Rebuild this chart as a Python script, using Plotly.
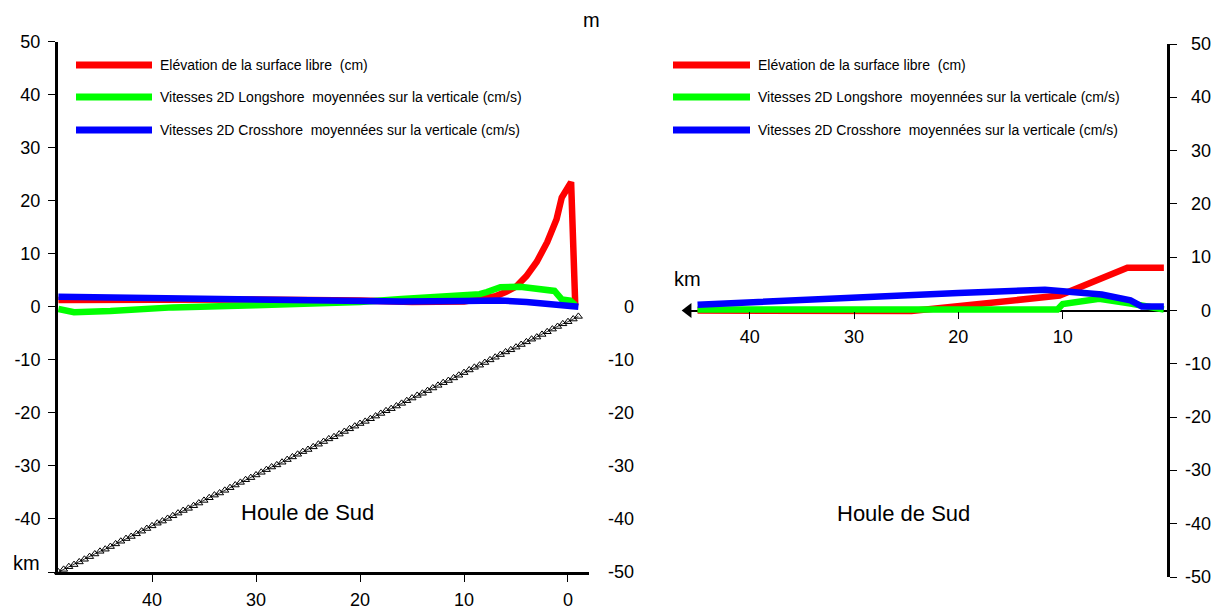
import plotly.graph_objects as go

# The page adds an 8px body margin, so the figure is drawn 8px smaller and
# every pixel position below is measured in the final screenshot frame.
PAGE_OFF = 8
W, H = 1223 - PAGE_OFF, 612 - PAGE_OFF
FONT = "Liberation Sans, Arial, Helvetica, sans-serif"

# ---------------- data ----------------
legend_labels = [
    "Elévation de la surface libre  (cm)",
    "Vitesses 2D Longshore  moyennées sur la verticale (cm/s)",
    "Vitesses 2D Crosshore  moyennées sur la verticale (cm/s)",
]
series_colors = ["#ff0000", "#00ff00", "#0000ff"]

# Left panel (distance in km, values in cm or cm/s)
red_left_km = [49, 40, 30, 20, 15, 10, 8, 7, 6, 5, 4, 3, 2, 1.1, 0.6, -0.3, -0.7]
red_left = [1.3, 1.4, 1.4, 1.2, 0.9, 1.0, 1.5, 2.0, 2.8, 3.8, 5.8, 8.5, 12.2, 16.5, 20.6, 23.5, 0.3]

green_left_km = [49, 47.5, 44, 38, 30, 26, 20, 16, 12, 8.5, 7.8, 6.5, 4.6, 2.7, 1.3, 0.6, -0.2, -0.7]
green_left = [-0.4, -1.0, -0.8, -0.1, 0.3, 0.45, 0.9, 1.5, 2.0, 2.4, 2.8, 3.7, 3.8, 3.3, 3.0, 1.4, 1.2, 0.3]

blue_left_km = [49, 40, 30, 20, 16, 10, 6.5, 4, 2.7, 1, -1]
blue_left = [1.9, 1.6, 1.3, 1.1, 1.0, 1.1, 1.2, 0.9, 0.6, 0.2, 0.0]

# Bathymetry (m) along the profile
bathy_km = [49.0, 48.5, 48.0, 47.5, 47.0, 46.5, 46.0, 45.5, 45.0, 44.5,
            44.0, 43.5, 43.0, 42.5, 42.0, 41.5, 41.0, 40.5, 40.0, 39.5,
            39.0, 38.5, 38.0, 37.5, 37.0, 36.5, 36.0, 35.5, 35.0, 34.5,
            34.0, 33.5, 33.0, 32.5, 32.0, 31.5, 31.0, 30.5, 30.0, 29.5,
            29.0, 28.5, 28.0, 27.5, 27.0, 26.5, 26.0, 25.5, 25.0, 24.5,
            24.0, 23.5, 23.0, 22.5, 22.0, 21.5, 21.0, 20.5, 20.0, 19.5,
            19.0, 18.5, 18.0, 17.5, 17.0, 16.5, 16.0, 15.5, 15.0, 14.5,
            14.0, 13.5, 13.0, 12.5, 12.0, 11.5, 11.0, 10.5, 10.0, 9.5,
            9.0, 8.5, 8.0, 7.5, 7.0, 6.5, 6.0, 5.5, 5.0, 4.5,
            4.0, 3.5, 3.0, 2.5, 2.0, 1.5, 1.0, 0.5, 0.0, -0.5, -1.0]
bathy_depth = [-50.0, -49.5, -49.0, -48.6, -48.1, -47.6, -47.1, -46.6, -46.1, -45.7,
               -45.2, -44.7, -44.2, -43.7, -43.3, -42.8, -42.3, -41.8, -41.3, -40.8,
               -40.4, -39.9, -39.4, -38.9, -38.4, -38.0, -37.5, -37.0, -36.5, -36.0,
               -35.5, -35.1, -34.6, -34.1, -33.6, -33.1, -32.6, -32.2, -31.7, -31.2,
               -30.7, -30.2, -29.8, -29.3, -28.8, -28.3, -27.8, -27.3, -26.9, -26.4,
               -25.9, -25.4, -24.9, -24.5, -24.0, -23.5, -23.0, -22.5, -22.0, -21.6,
               -21.1, -20.6, -20.1, -19.6, -19.2, -18.7, -18.2, -17.7, -17.2, -16.7,
               -16.3, -15.8, -15.3, -14.8, -14.3, -13.9, -13.4, -12.9, -12.4, -11.9,
               -11.4, -11.0, -10.5, -10.0, -9.5, -9.0, -8.5, -8.1, -7.6, -7.1,
               -6.6, -6.1, -5.7, -5.2, -4.7, -4.2, -3.7, -3.2, -2.8, -2.3, -1.8]

# Right panel
red_right_km = [45, 24.5, 10.3, 3.8, 0.3]
red_right = [0.0, -0.1, 2.8, 8.0, 8.0]

green_right_km = [45, 10.5, 10.0, 6.5, 3.5, 0.3]
green_right = [0.2, 0.2, 1.2, 2.2, 1.3, 0.2]

blue_right_km = [45, 35, 30, 20, 11.7, 9, 6.25, 3.5, 2.4, 0.3]
blue_right = [1.1, 2.0, 2.6, 3.3, 3.9, 3.6, 3.0, 1.9, 0.75, 0.75]

# tick labels
y_ticks = [50, 40, 30, 20, 10, 0, -10, -20, -30, -40, -50]
left_y_text = ["50", "40", "30", "20", "10", "0", "-10", "-20", "-30", "-40", ""]
left_right_labels = [0, -10, -20, -30, -40, -50]
x_ticks_left = [40, 30, 20, 10, 0]
x_ticks_right = [40, 30, 20, 10]
top_ticks = [0.5, 1.5, 2.5, 3.5, 4.5]

# ---------------- layout helpers (screenshot pixel -> paper) ----------------
def px(x):
    return (x - PAGE_OFF) / W

def py(y):
    return 1 - (y - PAGE_OFF) / H

# left panel frame in pixels
L_X0, L_X1, L_Y0, L_Y1 = 58, 589, 41.7, 572
L_KM0, L_KM1 = 49.04, -2.02
# right panel
R_X0, R_X1, R_Y0, R_Y1 = 684, 1167, 44, 577
R_KM0 = 46.3

LW = 6.5

fig = go.Figure()

# Left panel traces
fig.add_trace(go.Scatter(x=bathy_km, y=bathy_depth, mode="lines+markers",
                         line=dict(color="black", width=0.8),
                         marker=dict(symbol="triangle-up-open", size=7, color="black",
                                     line=dict(width=1, color="black")),
                         xaxis="x", yaxis="y", showlegend=False, cliponaxis=False))
for kx, vy, c in [(red_left_km, red_left, series_colors[0]),
                  (green_left_km, green_left, series_colors[1]),
                  (blue_left_km, blue_left, series_colors[2])]:
    fig.add_trace(go.Scatter(x=kx, y=vy, mode="lines", line=dict(color=c, width=LW),
                             xaxis="x", yaxis="y", showlegend=False))

# Right panel traces
for kx, vy, c in [(red_right_km, red_right, series_colors[0]),
                  (green_right_km, green_right, series_colors[1]),
                  (blue_right_km, blue_right, series_colors[2])]:
    fig.add_trace(go.Scatter(x=kx, y=vy, mode="lines", line=dict(color=c, width=LW),
                             xaxis="x2", yaxis="y2", showlegend=False, cliponaxis=False))
# arrow head at left end of the right-panel axis
fig.add_trace(go.Scatter(x=[45.9], y=[0], mode="markers",
                         marker=dict(symbol="triangle-left", size=13, color="black"),
                         xaxis="x2", yaxis="y2", showlegend=False, cliponaxis=False))

tickfont = dict(family=FONT, size=18, color="black")

y_dom_left = [py(L_Y1), py(L_Y0)]
y_dom_right = [py(R_Y1), py(R_Y0)]

fig.update_layout(
    width=W, height=H, autosize=False,
    margin=dict(l=0, r=0, t=0, b=0),
    paper_bgcolor="white", plot_bgcolor="white",
    font=dict(family=FONT, color="black"),
    showlegend=False,
    xaxis=dict(domain=[px(L_X0), px(L_X1)], range=[L_KM0, L_KM1], anchor="y",
               tickvals=x_ticks_left, ticks="outside", ticklen=7, tickwidth=1,
               tickcolor="black", showline=True, linewidth=3, linecolor="black",
               showgrid=False, zeroline=False, tickfont=tickfont,
               ticklabelstandoff=2, automargin=False),
    xaxis3=dict(overlaying="x", side="top", anchor="y", range=[0, 4.5],
                tickvals=top_ticks, showticklabels=False, ticks="outside", ticklen=7,
                tickwidth=1, tickcolor="black", showline=True, linewidth=3,
                linecolor="black", showgrid=False, zeroline=False, automargin=False),
    yaxis=dict(domain=y_dom_left, range=[-50, 50], anchor="x",
               tickvals=y_ticks, ticktext=left_y_text, ticks="outside", ticklen=7,
               tickwidth=1, tickcolor="black", showline=True, linewidth=3,
               linecolor="black", showgrid=False, zeroline=False, tickfont=tickfont,
               ticklabelstandoff=4, automargin=False),
    yaxis3=dict(overlaying="y", side="right", anchor="x", range=[-50, 50],
                tickvals=y_ticks, showticklabels=False, ticks="outside", ticklen=7,
                tickwidth=1, tickcolor="black", showline=True, linewidth=3,
                linecolor="black", showgrid=False, zeroline=False, automargin=False),
    xaxis2=dict(domain=[px(R_X0), px(R_X1)], range=[R_KM0, 0], anchor="free",
                position=(y_dom_right[0] + y_dom_right[1]) / 2,
                tickvals=x_ticks_right, ticks="outside", ticklen=7, tickwidth=1,
                tickcolor="black", showline=False, showgrid=False, zeroline=False,
                tickfont=tickfont, ticklabelstandoff=3, automargin=False),
    yaxis2=dict(domain=y_dom_right, range=[-50, 50], anchor="x2", side="right",
                tickvals=y_ticks, showticklabels=False, ticks="outside", ticklen=7,
                tickwidth=1, tickcolor="black", showline=True, linewidth=2.5,
                linecolor="black", showgrid=False, zeroline=True, zerolinecolor="black",
                zerolinewidth=2, automargin=False),
)

annotations = []
shapes = []

# right-side labels of left panel (right aligned)
for v in left_right_labels:
    annotations.append(dict(x=px(636), xref="paper", xanchor="right", y=v, yref="y",
                            yanchor="middle", text=str(v), showarrow=False, font=tickfont))
# right-side labels of right panel
for v in y_ticks:
    annotations.append(dict(x=px(1213), xref="paper", xanchor="right", y=v, yref="y2",
                            yanchor="middle", text=str(v), showarrow=False, font=tickfont))

big = dict(family=FONT, size=20, color="black")
annotations += [
    dict(x=px(26), y=py(563), xref="paper", yref="paper", text="km", showarrow=False,
         font=big, xanchor="center", yanchor="middle"),
    dict(x=px(591), y=1.0, xref="paper", yref="paper", text="m", showarrow=False,
         font=big, xanchor="center", yanchor="top", borderpad=0),
    dict(x=px(687), y=py(279), xref="paper", yref="paper", text="km", showarrow=False,
         font=big, xanchor="center", yanchor="middle"),
    dict(x=px(307), y=py(512), xref="paper", yref="paper", text="Houle de Sud",
         showarrow=False, font=dict(family=FONT, size=22, color="black"),
         xanchor="center", yanchor="middle"),
    dict(x=px(903), y=py(513), xref="paper", yref="paper", text="Houle de Sud",
         showarrow=False, font=dict(family=FONT, size=22, color="black"),
         xanchor="center", yanchor="middle"),
]

# legends (drawn manually)
leg_rows = [65, 97, 130]
for (lx0, lx1, tx) in [(76, 152, 158), (673, 750, 756)]:
    for lab, col, yy in zip(legend_labels, series_colors, leg_rows):
        shapes.append(dict(type="line", xref="paper", yref="paper",
                           x0=px(lx0), x1=px(lx1), y0=py(yy), y1=py(yy),
                           line=dict(color=col, width=7)))
        annotations.append(dict(x=px(tx), y=py(yy), xref="paper", yref="paper",
                                text=lab, showarrow=False, xanchor="left",
                                yanchor="middle",
                                font=dict(family=FONT, size=14, color="black")))

fig.update_layout(annotations=annotations, shapes=shapes)

fig.write_html("out.html")
